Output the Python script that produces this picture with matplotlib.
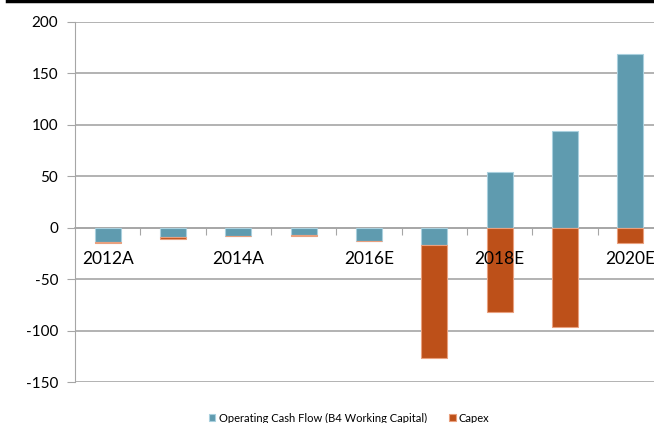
import matplotlib.pyplot as plt
from matplotlib.lines import Line2D

years = ["2012A", "2013A", "2014A", "2015A", "2016E", "2017E", "2018E", "2019E", "2020E"]
operating_cf = [-13.5, -9.5, -8, -7, -13, -17, 54, 94, 168.5]
capex = [-1.5, -1.5, 0, -1.5, 0, -110, -82, -97, -15]

teal = "#5F9BAF"
orange = "#BD5019"
grid_grey = "#A6A6A6"

plt.rcParams['font.family'] = ['Lato', 'DejaVu Sans']
plt.rcParams['axes.unicode_minus'] = False

fig = plt.figure(figsize=(6.54, 4.23), dpi=100)
ax = fig.add_axes([75 / 654, 1 - 382 / 423, 588 / 654, 360 / 423])

x = list(range(len(years)))
# capex stacks below the operating cash flow when both are negative
capex_base = [min(v, 0) for v in operating_cf]

ax.bar(x, operating_cf, width=0.4, color=teal, edgecolor="#A9D0DE",
       linewidth=0.8, zorder=3, label="Operating Cash Flow (B4 Working Capital)")
ax.bar(x, capex, width=0.4, bottom=capex_base, color=orange, edgecolor="#E9A07E",
       linewidth=0.8, zorder=3, label="Capex")

ax.set_xlim(-0.5, len(years) - 0.5)
ax.set_ylim(-150, 200)
ax.set_yticks(range(-150, 201, 50))
ax.yaxis.grid(True, color=grid_grey, linewidth=1.2)
ax.tick_params(axis='y', labelsize=11, length=6, color=grid_grey, pad=6)

# gridlines behind the bars, category labels in front of them
ax.yaxis.set_zorder(1)
ax.xaxis.set_zorder(5)

for side in ["top", "right"]:
    ax.spines[side].set_visible(False)
ax.spines["left"].set_color(grid_grey)
ax.spines["bottom"].set_color(grid_grey)
ax.spines["bottom"].set_linewidth(1.2)
ax.spines["bottom"].set_position(("data", 0))

# tick marks between categories, labels on every other year
ax.set_xticks([i + 0.5 for i in x[:-1]])
ax.set_xticklabels([])
ax.tick_params(axis='x', which='major', length=5, color=grid_grey, direction='out')
ax.set_xticks(x[::2], minor=True)
ax.set_xticklabels(years[::2], minor=True)
ax.tick_params(axis='x', which='minor', length=0, labelsize=12.5, pad=17)

ax.legend(loc="center", bbox_to_anchor=((349 - 75) / 588, -(418 - 382) / 360),
          ncol=2, frameon=False, fontsize=8, handlelength=0.6, handleheight=0.6,
          columnspacing=2.0, handletextpad=0.3, borderpad=0)

fig.add_artist(Line2D([7 / 654, 1], [1 - 1.2 / 423] * 2, color="black", linewidth=2.5))

fig.savefig("out.png", dpi=100)
